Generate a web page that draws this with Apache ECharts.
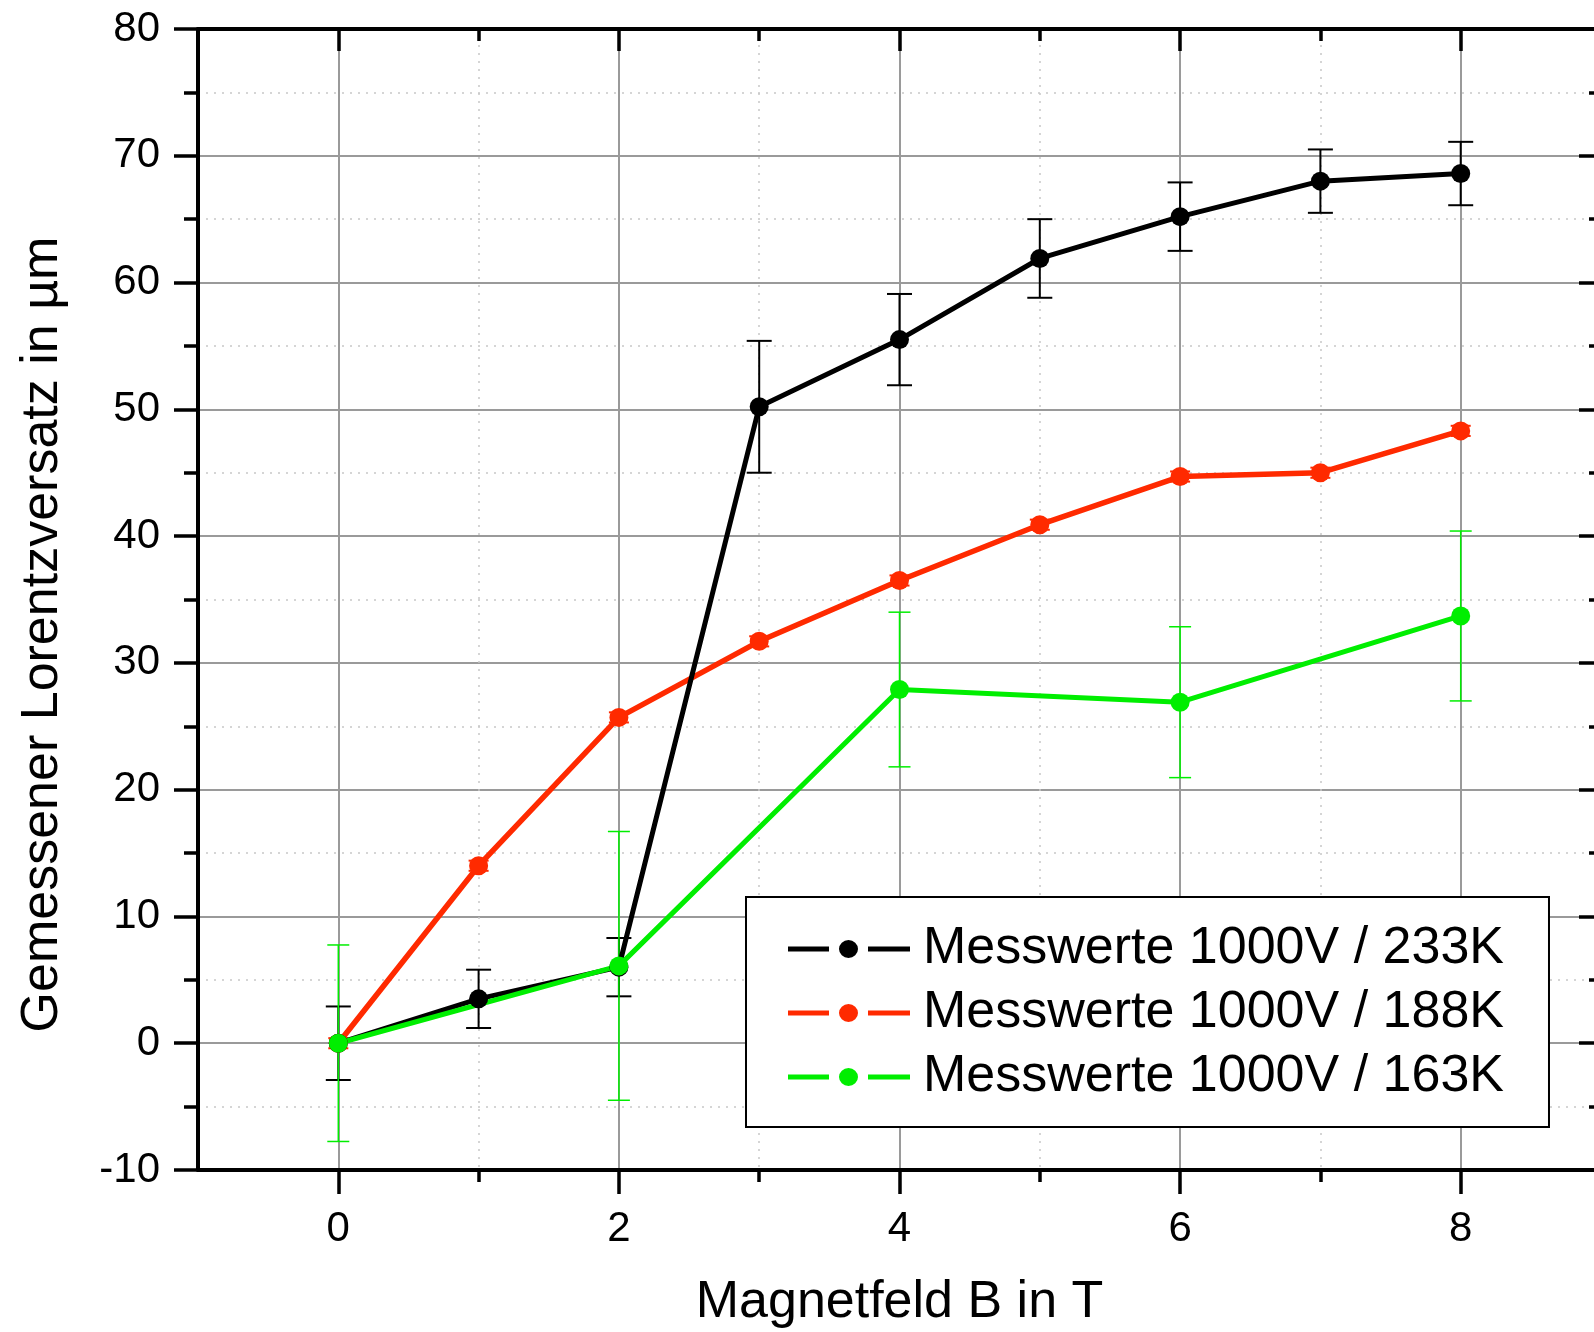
<!DOCTYPE html>
<html><head><meta charset="utf-8">
<script src="https://cdn.jsdelivr.net/npm/echarts@6/dist/echarts.min.js"></script>
<style>html,body{margin:0;padding:0;background:#fff}#c{width:1594px;height:1332px}</style>
</head><body><div id="c"></div>
<script>
// ---- data ----
const fieldB = [0, 1, 2, 3, 4, 5, 6, 7, 8];
const fieldB163 = [0, 2, 4, 6, 8];
const offset233 = [0, 3.5, 6.0, 50.2, 55.5, 61.9, 65.2, 68.0, 68.6];
const err233 = [2.9, 2.3, 2.3, 5.2, 3.6, 3.1, 2.7, 2.5, 2.5];
const offset188 = [0, 14.0, 25.7, 31.7, 36.5, 40.9, 44.7, 45.0, 48.3];
const err188 = [0.4, 0.4, 0.4, 0.4, 0.4, 0.4, 0.4, 0.4, 0.4];
const offset163 = [0, 6.1, 27.9, 26.9, 33.7];
const err163 = [7.75, 10.6, 6.1, 5.95, 6.7];
const seriesNames = ['Messwerte 1000V / 233K', 'Messwerte 1000V / 188K', 'Messwerte 1000V / 163K'];
const xMajorTicks = [0, 2, 4, 6, 8];
const xMinorTicks = [1, 3, 5, 7];
const xTitle = 'Magnetfeld B in T';
const yTitle = 'Gemessener Lorentzversatz in µm';

const FONT = '"Liberation Sans", Arial, sans-serif';
const C_BLACK = '#000000', C_RED = '#ff2a00', C_GREEN = '#00ee00';
// legend icon: line segment, gap, dot, gap, line segment (Origin style)
const LEGEND_ICON = 'path://M0,6.5h41v5h-41z M51,9a9.5,9,0,1,0,19,0a9.5,9,0,1,0,-19,0z M80,6.5h42v5h-42z M0,0h0.01v0.01h-0.01z M0,18h0.01v0.01h-0.01z';

function errRender(color, capW, lw) {
  return function (params, api) {
    const x = api.value(0), lo = api.value(1), hi = api.value(2);
    const pLo = api.coord([x, lo]), pHi = api.coord([x, hi]);
    const h = capW / 2;
    const st = { stroke: color, lineWidth: lw };
    return { type: 'group', children: [
      { type: 'line', shape: { x1: pHi[0], y1: pHi[1], x2: pLo[0], y2: pLo[1] }, style: st },
      { type: 'line', shape: { x1: pHi[0] - h, y1: pHi[1], x2: pHi[0] + h, y2: pHi[1] }, style: st },
      { type: 'line', shape: { x1: pLo[0] - h, y1: pLo[1], x2: pLo[0] + h, y2: pLo[1] }, style: st }
    ]};
  };
}
function errData(xs, ys, es) { return xs.map((x, i) => [x, ys[i] - es[i], ys[i] + es[i]]); }
function lineData(xs, ys) { return xs.map((x, i) => [x, ys[i]]); }

const chart = echarts.init(document.getElementById('c'), null, { renderer: 'canvas' });
const xBase = { type: 'value', min: -1, max: 9, gridIndex: 0 };
const yBase = { type: 'value', min: -10, max: 80, interval: 10 };
const GRID_MAJOR = { color: '#9a9a9a', width: 2 };
const GRID_MINOR = { color: '#c8c8c8', width: 1.5, type: [2, 6] };
const option = {
  animation: false,
  backgroundColor: '#fff',
  grid: { left: 198, top: 29, right: -7, bottom: 162, containLabel: false, outerBoundsMode: 'none' },
  xAxis: [
    Object.assign({}, xBase, {
      position: 'bottom',
      axisLine: { show: true, onZero: false, lineStyle: { color: '#000', width: 4 } },
      axisTick: { show: true, inside: false, length: 24, customValues: xMajorTicks, lineStyle: { color: '#000', width: 3.5 } },
      axisLabel: { show: true, customValues: xMajorTicks, margin: 38, fontSize: 42, color: '#000', fontFamily: FONT },
      splitLine: { show: true, lineStyle: GRID_MAJOR },
      name: xTitle, nameLocation: 'middle', nameGap: 107,
      nameTextStyle: { fontSize: 52, color: '#000', fontFamily: FONT }
    }),
    Object.assign({}, xBase, {
      position: 'bottom',
      axisLine: { show: false, onZero: false },
      axisTick: { show: true, inside: false, length: 12, customValues: xMinorTicks, lineStyle: { color: '#000', width: 3.5 } },
      axisLabel: { show: false },
      splitLine: { show: true, lineStyle: GRID_MINOR }
    }),
    Object.assign({}, xBase, {
      position: 'top',
      axisLine: { show: true, onZero: false, lineStyle: { color: '#000', width: 4 } },
      axisTick: { show: true, inside: true, length: 22, customValues: xMajorTicks, lineStyle: { color: '#000', width: 3.5 } },
      axisLabel: { show: false },
      splitLine: { show: false }
    }),
    Object.assign({}, xBase, {
      position: 'top',
      axisLine: { show: false, onZero: false },
      axisTick: { show: true, inside: true, length: 12, customValues: xMinorTicks, lineStyle: { color: '#000', width: 3.5 } },
      axisLabel: { show: false },
      splitLine: { show: false }
    })
  ],
  yAxis: [
    Object.assign({}, yBase, {
      position: 'left',
      axisLine: { show: true, onZero: false, lineStyle: { color: '#000', width: 4 } },
      axisTick: { show: true, inside: false, length: 24, lineStyle: { color: '#000', width: 3.5 } },
      minorTick: { show: true, splitNumber: 2, length: 14, lineStyle: { color: '#000', width: 3.5 } },
      axisLabel: { show: true, margin: 38, fontSize: 42, color: '#000', fontFamily: FONT },
      splitLine: { show: true, lineStyle: GRID_MAJOR },
      minorSplitLine: { show: true, lineStyle: GRID_MINOR },
      name: yTitle, nameLocation: 'middle', nameGap: 129,
      nameTextStyle: { fontSize: 52, color: '#000', fontFamily: FONT, padding: [0, 70, 0, 0] }
    }),
    Object.assign({}, yBase, {
      position: 'right',
      axisLine: { show: true, onZero: false, lineStyle: { color: '#000', width: 4 } },
      axisTick: { show: true, inside: true, length: 22, lineStyle: { color: '#000', width: 3.5 } },
      minorTick: { show: true, splitNumber: 2, length: 12, lineStyle: { color: '#000', width: 3.5 } },
      axisLabel: { show: false },
      splitLine: { show: false }
    })
  ],
  legend: {
    data: seriesNames, orient: 'vertical', left: 746, top: 897,
    padding: [26, 45, 24, 42], itemGap: 12, itemWidth: 122, itemHeight: 18,
    icon: LEGEND_ICON, symbolKeepAspect: false,
    backgroundColor: '#fff', borderColor: '#000', borderWidth: 2, borderRadius: 0,
    textStyle: { fontSize: 52, color: '#000', lineHeight: 52, fontFamily: FONT, padding: [0, 0, 0, 8] }
  },
  series: [
    { type: 'custom', name: 'err233', z: 2, silent: true, renderItem: errRender(C_BLACK, 25, 2),
      encode: { x: 0, y: [1, 2] }, data: errData(fieldB, offset233, err233) },
    { type: 'custom', name: 'err188', z: 2, silent: true, renderItem: errRender(C_RED, 20, 2),
      encode: { x: 0, y: [1, 2] }, data: errData(fieldB, offset188, err188) },
    { type: 'custom', name: 'err163', z: 2, silent: true, renderItem: errRender(C_GREEN, 22, 1.5),
      encode: { x: 0, y: [1, 2] }, data: errData(fieldB163, offset163, err163) },
    { type: 'line', name: seriesNames[1], z: 3, data: lineData(fieldB, offset188), symbol: 'circle', symbolSize: 19,
      lineStyle: { color: C_RED, width: 5.5 }, itemStyle: { color: C_RED } },
    { type: 'line', name: seriesNames[0], z: 3, data: lineData(fieldB, offset233), symbol: 'circle', symbolSize: 19,
      lineStyle: { color: C_BLACK, width: 5 }, itemStyle: { color: C_BLACK } },
    { type: 'line', name: seriesNames[2], z: 3, data: lineData(fieldB163, offset163), symbol: 'circle', symbolSize: 19,
      lineStyle: { color: C_GREEN, width: 5 }, itemStyle: { color: C_GREEN } }
  ]
};
chart.setOption(option);
</script>
</body></html>
